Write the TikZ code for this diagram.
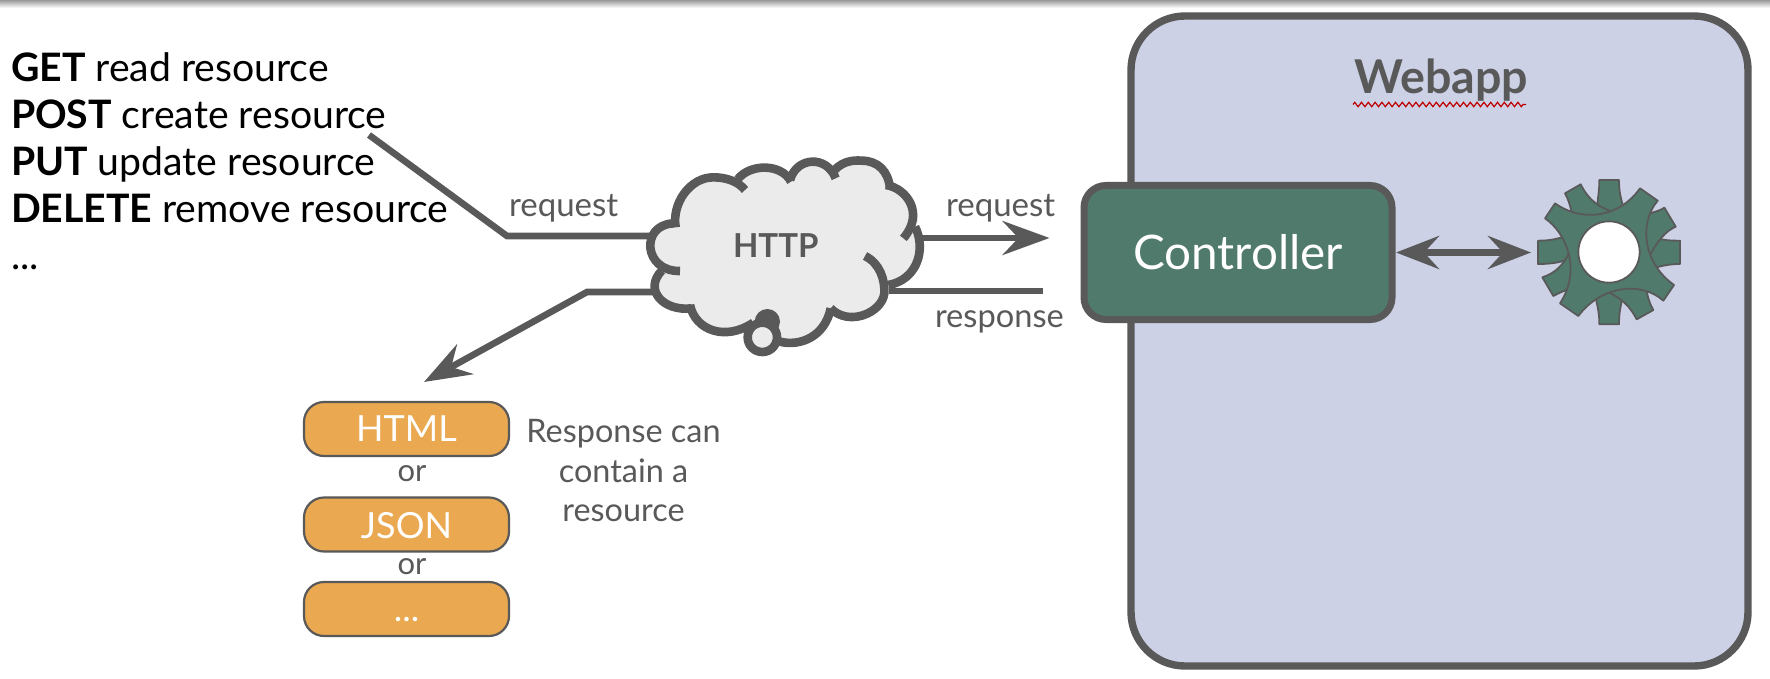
\documentclass[tikz,border=0pt]{standalone}
\usepackage{fontspec}
\setmainfont{Lato}
\usetikzlibrary{arrows.meta,decorations.pathmorphing}
\definecolor{ink}{HTML}{595959}
\definecolor{cloudfill}{HTML}{EBEBEB}
\definecolor{appfill}{HTML}{CCD1E6}
\definecolor{ctrlfill}{HTML}{507A6C}
\definecolor{boxfill}{HTML}{EAA951}
\newcommand{\fs}[1]{\fontsize{#1}{#1}\selectfont}
\tikzset{
  txt/.style={inner sep=0pt,outer sep=0pt,anchor=base west},
  ctxt/.style={inner sep=0pt,outer sep=0pt,anchor=base},
  conn/.style={draw=ink,line width=3.3pt,line join=miter},
  bigtip/.style={-{Stealth[length=23.5pt,width=17pt,inset=8pt]}},
  dbltip/.style={{Stealth[length=21.5pt,width=16.5pt,inset=7.5pt]}-{Stealth[length=21.5pt,width=16.5pt,inset=7.5pt]}},
  fmtbox/.style={draw=ink,line width=1.1pt,fill=boxfill,rounded corners=10pt,minimum width=102.5pt,minimum height=27pt,inner sep=0pt},
  lobe/.style={draw=ink,line width=4.3pt},
  gearpart/.style={draw=ink,line width=.9pt,fill=ctrlfill,line join=round},
}
\begin{document}
\begin{tikzpicture}[x=0.5pt,y=-0.5pt]
\path[use as bounding box,fill=white] (0,0) rectangle (1770,679);
\shade[top color=black!40,bottom color=white] (0,0) rectangle (1770,8);

% webapp
\node[draw=ink,line width=3.7pt,fill=appfill,rounded corners=27pt,minimum width=308.5pt,minimum height=325pt,inner sep=0pt] (webapp) at (1439.5,341) {};
\node[txt,font=\fs{23.3}\bfseries,text=ink] (webtitle) at (1354,94) {Webapp};
\coordinate (waveA) at (1353,104.5);
\coordinate (waveB) at (1526,104.5);
\draw[draw=red!75!black,line width=.6pt,decorate,decoration={zigzag,amplitude=1.1pt,segment length=3.4pt}] (waveA) -- (waveB);

% controller
\node[draw=ink,line width=3.5pt,fill=ctrlfill,rounded corners=11pt,minimum width=154pt,minimum height=67pt,inner sep=0pt] (ctrl) at (1238,252.5) {};
\node[ctxt,font=\fs{23.8},text=white] (ctrltxt) at (1238,270) {Controller};

% gear
\coordinate (gearc) at (1609,252);
\begin{scope}[shift={(1510,160)},x=0.16667pt,y=-0.16667pt]
 \path[gearpart] (262,190) -- (262,135) .. controls (265,100) and (268,90) .. (268,60) -- (327,60) .. controls (327,90) and (330,105) .. (338,135) -- (338,190) -- cycle;
 \path[gearpart] (165,100) -- (212,73) .. controls (230,110) and (255,135) .. (298,152) -- (300,185) -- (190,185) .. controls (182,140) and (178,125) .. (165,100) -- cycle;
 \path[gearpart] (400,238) -- (455,238) .. controls (475,242) and (490,242) .. (510,242) -- (510,312) .. controls (485,312) and (465,315) .. (440,322) -- (400,322) -- cycle;
 \path[gearpart] (463,143) -- (497,200) .. controls (465,215) and (445,240) .. (420,285) -- (385,285) -- (385,165) -- (420,160) .. controls (435,155) and (450,152) .. (463,143) -- cycle;
 \path[gearpart] (258,365) -- (258,418) .. controls (265,450) and (268,465) .. (268,493) -- (327,493) .. controls (327,465) and (330,445) .. (336,420) -- (336,365) -- cycle;
 \path[gearpart] (430,450) -- (380,478) .. controls (360,440) and (340,420) .. (298,398) -- (298,365) -- (405,365) .. controls (412,410) and (418,430) .. (430,450) -- cycle;
 \path[gearpart] (205,242) -- (155,232) .. controls (130,240) and (110,242) .. (84,242) -- (84,312) .. controls (110,312) and (140,310) .. (170,300) -- (205,300) -- cycle;
 \path[gearpart] (97,352) -- (130,408) .. controls (145,400) and (155,395) .. (170,390) -- (210,390) -- (210,278) -- (178,278) .. controls (160,315) and (135,340) .. (97,352) -- cycle;
 \path[gearpart] (135,130) -- (105,175) .. controls (170,220) and (215,330) .. (150,430) -- (205,468) .. controls (270,380) and (390,360) .. (460,422) -- (492,375) .. controls (400,310) and (385,190) .. (443,122) -- (390,85) .. controls (330,170) and (220,190) .. (135,130) -- cycle;
 \path[draw=ink,line width=.9pt,fill=white] (297,276) circle (92);
\end{scope}
\node[circle,minimum size=30pt,inner sep=0pt] (gear) at (gearc) {};
\coordinate (gearin) at (1531,252.5);
\coordinate (ctrlout) at (1396,252.5);
\draw[conn,dbltip] (ctrlout) -- (gearin);

% cloud
\begin{scope}[shift={(640,140)},x=0.16667pt,y=-0.16667pt]
 \fill[cloudfill] (107,262) .. controls (95,190) and (150,112) .. (220,112) .. controls (260,112) and (295,125) .. (315,150)
   -- (293,118) .. controls (330,70) and (425,70) .. (453,125)
   .. controls (470,50) and (560,45) .. (587,115)
   -- (572,105) .. controls (600,62) and (640,60) .. (665,62) .. controls (715,62) and (745,95) .. (750,145)
   .. controls (800,145) and (855,220) .. (825,260)
   .. controls (860,330) and (830,420) .. (745,435)
   -- (733,460) .. controls (725,520) and (625,560) .. (572,505)
   .. controls (555,590) and (480,620) .. (420,605)
   -- (340,548) .. controls (255,605) and (165,570) .. (150,495)
   .. controls (70,515) and (10,450) .. (65,392)
   .. controls (-10,350) and (10,255) .. (100,250) -- cycle;
 \draw[lobe] (107,262) .. controls (95,190) and (150,112) .. (220,112) .. controls (260,112) and (295,125) .. (315,150);
 \draw[lobe] (293,118) .. controls (330,70) and (425,70) .. (453,125);
 \draw[lobe] (450,120) .. controls (470,50) and (560,45) .. (587,115);
 \draw[lobe] (572,105) .. controls (600,62) and (640,60) .. (665,62) .. controls (715,62) and (745,95) .. (750,145);
 \draw[lobe] (738,135) .. controls (800,145) and (855,220) .. (790,295);
 \draw[lobe] (825,260) .. controls (860,330) and (830,420) .. (745,435);
 \draw[lobe] (675,348) .. controls (720,370) and (735,420) .. (733,460) .. controls (725,520) and (625,560) .. (572,505);
 \draw[lobe] (572,505) .. controls (555,590) and (480,620) .. (420,605);
 \fill[ink] (382,545) circle (38);
 \draw[lobe,fill=cloudfill] (367,592) circle (44);
 \draw[lobe] (340,548) .. controls (255,605) and (165,570) .. (150,495);
 \draw[lobe] (155,505) .. controls (70,515) and (10,450) .. (65,392);
 \draw[lobe] (120,393) .. controls (10,395) and (0,255) .. (100,250);
\end{scope}
\node[txt,font=\fs{16.5}\bfseries,text=ink] (http) at (733,257) {HTTP};

% method list
\node[txt,font=\fs{19.6}] (m1) at (11,82) {\textbf{GET} read resource};
\node[txt,font=\fs{19.6}] (m2) at (11,129) {\textbf{POST} create resource};
\node[txt,font=\fs{19.6}] (m3) at (11,176) {\textbf{PUT} update resource};
\node[txt,font=\fs{19.6}] (m4) at (11,222) {\textbf{DELETE} remove resource};
\node[txt,font=\fs{19.6}] (m5) at (11,270) {...};

% connectors
\coordinate (reqstart) at (369,135);
\coordinate (reqbend) at (507,236);
\coordinate (cloudreqin) at (650,236);
\coordinate (cloudreqout) at (920,238);
\coordinate (reqtip) at (1049.5,238);
\coordinate (respstart) at (1043,291);
\coordinate (cloudresp) at (889,291);
\coordinate (cloudrespout) at (654,292);
\coordinate (respbend) at (587,292);
\coordinate (resptip) at (424,382);
\draw[conn] (reqstart) -- (reqbend) -- (cloudreqin);
\draw[conn,bigtip] (cloudreqout) -- (reqtip);
\draw[conn] (respstart) -- (cloudresp);
\draw[conn,bigtip] (cloudrespout) -- (respbend) -- (resptip);

% connector labels
\node[txt,font=\fs{16.5},text=ink] (lreq1) at (509,217) {request};
\node[txt,font=\fs{16.5},text=ink] (lreq2) at (946,217) {request};
\node[txt,font=\fs{16.3},text=ink] (lresp) at (935,327) {response};

% formats
\node[fmtbox] (bhtml) at (406.5,429) {};
\node[ctxt,font=\fs{18},text=white] (thtml) at (406.5,441.7) {HTML};
\node[ctxt,font=\fs{15.5},text=ink] (or1) at (412,481) {or};
\node[fmtbox] (bjson) at (406.5,524.5) {};
\node[ctxt,font=\fs{18},text=white] (tjson) at (406.5,538.5) {JSON};
\node[ctxt,font=\fs{15.5},text=ink] (or2) at (412,574) {or};
\node[fmtbox] (bmore) at (406.5,609) {};
\node[ctxt,font=\fs{18},text=white] (tmore) at (406.5,621.7) {...};
\node[ctxt,font=\fs{16.2},text=ink] (note1) at (623.5,442.5) {Response can};
\node[ctxt,font=\fs{16.2},text=ink] (note2) at (623.5,482) {contain a};
\node[ctxt,font=\fs{16.2},text=ink] (note3) at (623.5,521) {resource};
\end{tikzpicture}
\end{document}
